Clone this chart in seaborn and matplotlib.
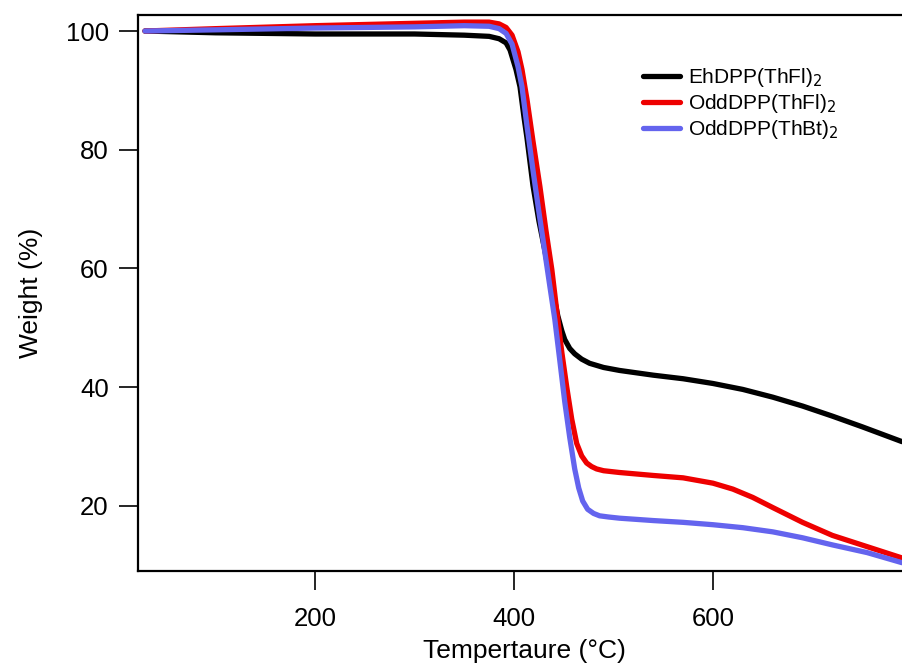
import numpy as np
import pandas as pd
import matplotlib
matplotlib.use("Agg")
import matplotlib.pyplot as plt
import seaborn as sns
from matplotlib.lines import Line2D

# ---- data ----
labels = ["EhDPP(ThFl)$_2$", "OddDPP(ThFl)$_2$", "OddDPP(ThBt)$_2$"]
colors = ["#000000", "#ee0000", "#6464ee"]

t_eh = [29, 100, 200, 300, 350, 375, 385, 392, 396, 402, 406, 410, 413, 419, 425, 431, 437,
        441, 444, 448, 451, 456, 461, 468, 476, 490, 506, 540, 570, 600, 630, 660, 690,
        720, 750, 790]
w_eh = [100, 99.7, 99.5, 99.5, 99.3, 99.1, 98.7, 98.0, 96.8, 93.5, 90.6, 85.5, 82.0, 74.0,
        68.0, 63.0, 57.5, 54.5, 52.0, 49.5, 48.0, 46.5, 45.6, 44.7, 44.0, 43.3, 42.8, 42.0,
        41.4, 40.6, 39.6, 38.3, 36.8, 35.1, 33.3, 30.8]

t_ft = [29, 100, 200, 300, 350, 375, 385, 392, 398, 404, 408, 413, 419, 426, 432, 438, 443,
        448, 453, 458, 463, 468, 473, 478, 483, 490, 506, 540, 570, 600, 620, 640, 660,
        690, 720, 755, 790]
w_ft = [100, 100.4, 100.9, 101.3, 101.5, 101.5, 101.2, 100.6, 99.3, 96.5, 93.5, 88.5, 81.5,
        73.8, 66.5, 59.8, 52.8, 45.9, 40.0, 34.6, 30.5, 28.4, 27.2, 26.6, 26.2, 25.9, 25.6,
        25.1, 24.7, 23.8, 22.8, 21.4, 19.7, 17.2, 15.0, 13.1, 11.2]

t_bt = [29, 100, 200, 300, 350, 375, 385, 392, 398, 404, 408, 413, 419, 425, 431, 436, 441,
        446, 451, 456, 461, 465, 469, 474, 480, 486, 495, 506, 540, 570, 600, 630, 660,
        690, 720, 755, 790]
w_bt = [100, 100.2, 100.5, 100.7, 100.9, 100.8, 100.4, 99.6, 97.8, 94.0, 90.6, 84.0, 76.6,
        69.5, 62.7, 57.0, 51.4, 44.5, 37.5, 31.5, 26.2, 23.0, 20.8, 19.4, 18.7, 18.3, 18.1,
        17.9, 17.5, 17.2, 16.8, 16.3, 15.6, 14.6, 13.4, 12.1, 10.4]

x_ticks = [200, 400, 600]
y_ticks = [20, 40, 60, 80, 100]

# ---- build table ----
frames = []
for lab, t, w in zip(labels, [t_eh, t_ft, t_bt], [w_eh, w_ft, w_bt]):
    frames.append(pd.DataFrame({"T": t, "W": w, "sample": lab}))
df = pd.concat(frames, ignore_index=True)

sns.set_style("ticks")
plt.rcParams["font.family"] = ["Liberation Sans", "DejaVu Sans"]

fig = plt.figure(figsize=(9.02, 6.64), dpi=100)
ax = fig.add_axes([138 / 902, 1 - 571 / 664, 1 - 138 / 902 + 0.01, (571 - 15) / 664])

sns.lineplot(data=df, x="T", y="W", hue="sample", palette=colors, sort=False,
             estimator=None, units="sample", linewidth=3.8, ax=ax, legend=False)
for ln in ax.lines:
    ln.set_solid_capstyle("round")
    ln.set_solid_joinstyle("round")

ax.set_xlim(22, 790 + 0.01 * 902 / 0.995)
ax.set_ylim(9.0, 102.7)
ax.set_xticks(x_ticks)
ax.set_yticks(y_ticks)
ax.tick_params(axis="both", direction="out", length=14, width=1.2, labelsize=18.5,
               color="black", labelcolor="black")
ax.tick_params(axis="x", pad=12)
ax.tick_params(axis="y", pad=7)
for side in ["left", "bottom", "top"]:
    ax.spines[side].set_linewidth(1.6)
    ax.spines[side].set_color("black")
ax.spines["right"].set_visible(False)

ax.set_xlabel("Tempertaure (°C)", fontsize=19, labelpad=6, color="black")
ax.set_ylabel("Weight (%)", fontsize=19, labelpad=16, color="black")

handles = [Line2D([0], [0], color=c, lw=3.8) for c in colors]
ax.legend(handles, labels, loc="upper left", bbox_to_anchor=(0.653, 0.908),
          frameon=False, fontsize=15, handlelength=1.8, handletextpad=0.38,
          labelspacing=0.15, borderpad=0, borderaxespad=0, labelcolor="black")

fig.savefig("out.png", dpi=100)
